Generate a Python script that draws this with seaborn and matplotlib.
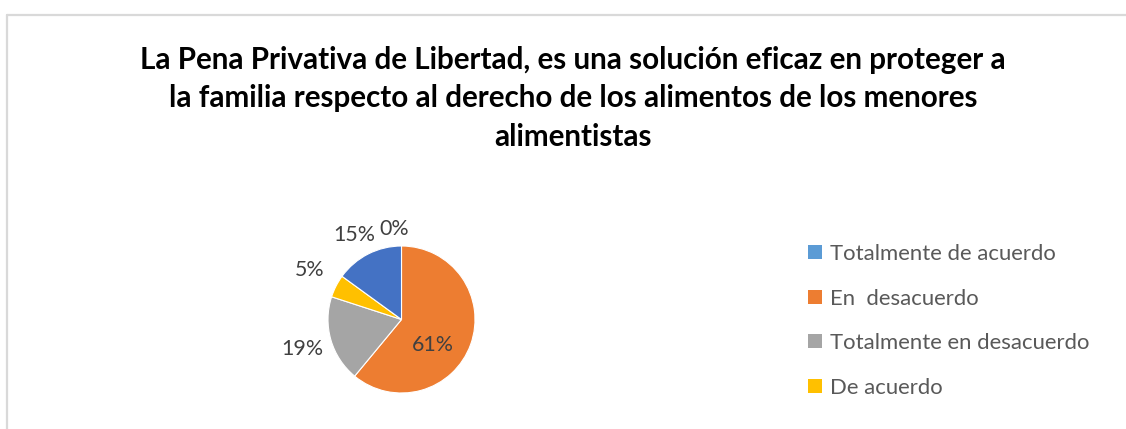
import numpy as np
import matplotlib
matplotlib.use("Agg")
import matplotlib.pyplot as plt
from matplotlib.lines import Line2D
import seaborn as sns

# ---------- datos ----------
title = ("La Pena Privativa de Libertad, es una solución eficaz en proteger a\n"
         "la familia respecto al derecho de los alimentos de los menores\n"
         "alimentistas")
categories = ["Totalmente de acuerdo", "En  desacuerdo",
              "Totalmente en desacuerdo", "De acuerdo", ""]
values = [0, 61, 19, 5, 15]
pct_labels = ["0%", "61%", "19%", "5%", "15%"]
colors = ["#5B9BD5", "#ED7D31", "#A5A5A5", "#FFC000", "#4472C4"]
n_legend = 4  # la 5ª categoría no aparece en la leyenda

sns.set_theme(style="white")
plt.rcParams["font.family"] = ["Lato", "DejaVu Sans"]

W, H = 1126, 429
fig = plt.figure(figsize=(W / 100, H / 100), dpi=100)
fig.patch.set_facecolor("white")

# marco del gráfico (sólo borde superior e izquierdo visibles)
fig.add_artist(Line2D([6.5 / W, 1.0], [1 - 14.5 / H, 1 - 14.5 / H],
                      transform=fig.transFigure, color="#D9D9D9", lw=1.6))
fig.add_artist(Line2D([6.5 / W, 6.5 / W], [0.0, 1 - 14.5 / H],
                      transform=fig.transFigure, color="#D9D9D9", lw=1.6))

fig.text(573 / W, 1 - 98.5 / H, title, ha="center", va="center",
         fontsize=21.3, fontweight="bold", color="black", linespacing=1.44)

# pastel: centro (401.5, 319.5) px, radio 73.5 px
cx, cy, r = 401.5, 319.5, 73.5
half = 150
ax = fig.add_axes([(cx - half) / W, (H - cy - half) / H, 2 * half / W, 2 * half / H])
wedges, _ = ax.pie(values, colors=colors, startangle=90, counterclock=False,
                   radius=1.0, wedgeprops=dict(linewidth=0.8, edgecolor="white"))
lim = half / r
ax.set_xlim(-lim, lim)
ax.set_ylim(-lim, lim)
ax.set_aspect("equal")
ax.axis("off")

# etiquetas de porcentaje
label_dist = [1.25, 0.55, 1.38, 1.40, 1.32]
label_shift = [(-0.10, -0.02), (-0.09, -0.16), (-0.03, -0.01), (0.0, 0.04), (-0.04, -0.03)]
for w, lab, d, (sx, sy) in zip(wedges, pct_labels, label_dist, label_shift):
    ang = np.deg2rad((w.theta1 + w.theta2) / 2)
    ax.text(d * np.cos(ang) + sx, d * np.sin(ang) + sy, lab, ha="center", va="center",
            fontsize=15.4, color="#404040")

leg = fig.legend(wedges[:n_legend], categories[:n_legend],
                 loc="upper left", bbox_to_anchor=(808 / W, 1 - 244 / H),
                 frameon=False, fontsize=15.9, labelcolor="#595959",
                 handlelength=0.63, handleheight=0.63, handletextpad=0.36,
                 labelspacing=1.11, borderpad=0, borderaxespad=0)
for h in leg.legend_handles:
    h.set_edgecolor("none")

fig.savefig("out.png", dpi=100, facecolor="white")
